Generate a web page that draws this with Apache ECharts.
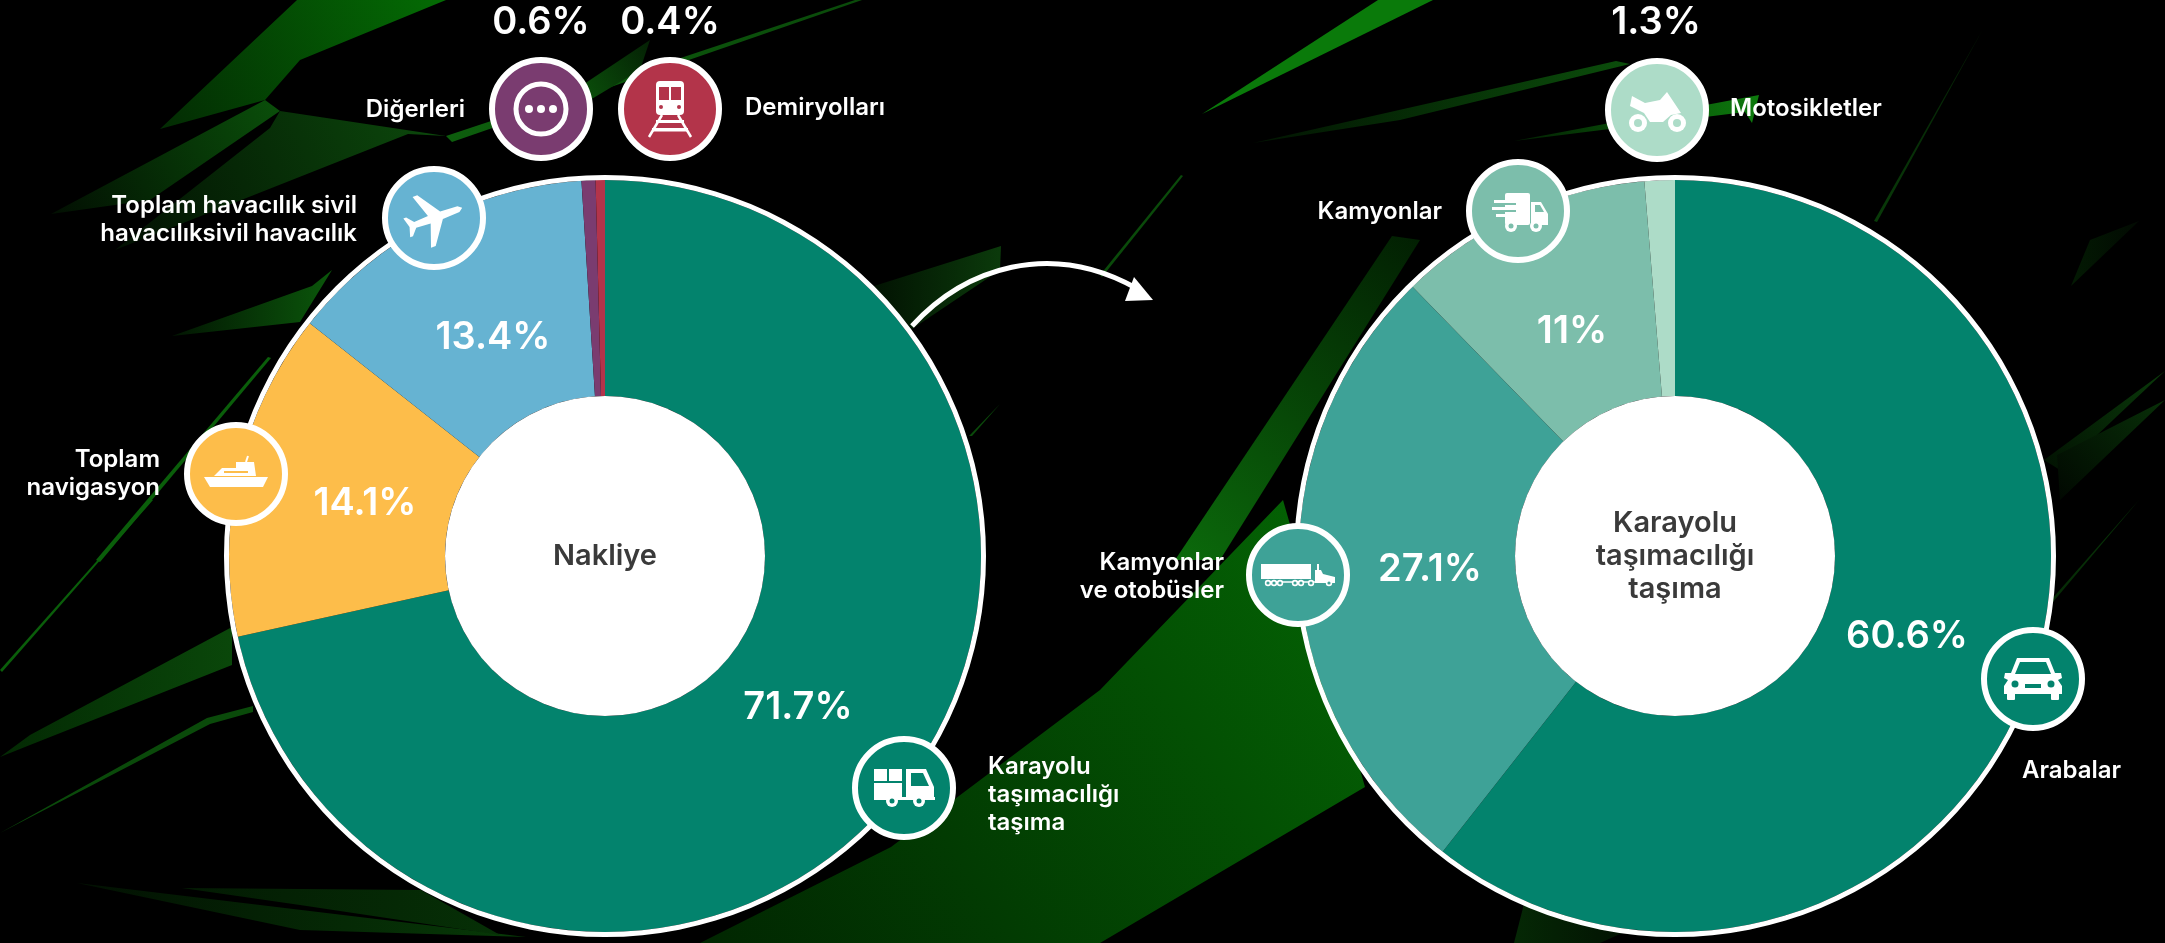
<!DOCTYPE html>
<html>
<head>
<meta charset="utf-8">
<style>
html, body { margin: 0; padding: 0; background: #000; }
#main { width: 2165px; height: 943px; }
</style>
<script src="https://cdn.jsdelivr.net/npm/echarts@6/dist/echarts.min.js"></script>
</head>
<body>
<div id="main"></div>
<script>
// data
const transportNames = ['Karayolu\ntaşımacılığı\ntaşıma', 'Toplam\nnavigasyon', 'Toplam havacılık sivil\nhavacılıksivil havacılık', 'Diğerleri', 'Demiryolları'];
const transportValues = [71.7, 14.1, 13.4, 0.6, 0.4];
const roadNames = ['Arabalar', 'Kamyonlar\nve otobüsler', 'Kamyonlar', 'Motosikletler'];
const roadValues = [60.6, 27.1, 11, 1.3];
const transportTitle = 'Nakliye';
const roadTitle = 'Karayolu\ntaşımacılığı\ntaşıma';

// colours
const transportColors = ['#03836d', '#fdbd4a', '#66b3d2', '#7a3c70', '#b3344a'];
const roadColors = ['#03836d', '#3ea297', '#7cbeab', '#addcc8'];

// layout, percent labels
const transportPct = [[798, 708], [365, 504], [493, 338], [541, 23], [670, 23]];
const roadPct = [[1907, 637], [1430, 570], [1572, 332], [1656, 23]];
// layout, names: x, y, align
const transportText = [[988, 795, 'left'], [160, 474, 'right'], [357, 220, 'right'], [465, 110, 'right'], [745, 108, 'left']];
const roadText = [[2022, 771, 'left'], [1224, 577, 'right'], [1442, 212, 'right'], [1730, 109, 'left']];

// background streaks: points, colour a, colour b, gradient direction
const streaks = [
  [[[297,0],[446,0],[300,60],[265,100],[160,129]], '#046c04', '#032b03', [1,0,0,1]],
  [[[265,100],[280,111],[150,200],[51,214]], '#0a4f0a', '#020f02', [1,0,0,1]],
  [[[280,111],[446,136],[408,134],[115,250],[270,128]], '#0c4a0c', '#021002', [1,0,0,1]],
  [[[446,136],[855,0],[862,0],[452,142]], '#0d5e0d', '#0a4a0a', [0,0,1,0]],
  [[[560,100],[650,40],[640,70],[590,100]], '#0c5a0c', '#042004', [0,1,1,0]],
  [[[172,336],[312,286],[332,270],[300,322]], '#021502', '#0b570b', [0,0,1,0]],
  [[[96,560],[268,357],[271,358],[100,562]], '#0a5e0a', '#0a5e0a', [0,0,1,0]],
  [[[0,670],[151,500],[153,500],[2,672]], '#0a5e0a', '#0a5e0a', [0,0,1,0]],
  [[[0,757],[30,735],[232,627],[232,665],[30,745]], '#032903', '#0a470a', [0,0,1,0]],
  [[[0,833],[207,718],[253,706],[253,712],[210,724]], '#0a4a0a', '#0a4a0a', [0,0,1,0]],
  [[[77,883],[526,937],[300,930]], '#021002', '#073a07', [0,0,1,0]],
  [[[182,888],[421,890],[500,935],[300,905]], '#031a03', '#063006', [0,0,1,0]],
  [[[700,943],[891,847],[1100,690],[1283,500],[1365,787],[1100,943]], '#012601', '#046604', [0,1,1,0]],
  [[[1175,560],[1392,236],[1420,240],[1220,560]], '#0b6a0b', '#021f02', [0,1,1,0]],
  [[[1202,114],[1378,0],[1433,0]], '#0a7a0a', '#0a7a0a', [0,0,1,0]],
  [[[1253,143],[1616,61],[1630,64],[1400,120]], '#021402', '#0b4d0b', [0,0,1,0]],
  [[[1514,141],[1759,95],[1752,123],[1745,112]], '#032003', '#0d7a0d', [0,0,1,0]],
  [[[1983,29],[1874,221],[1877,222]], '#021002', '#0b480b', [0,0,1,1]],
  [[[2165,371],[2044,460],[2060,470]], '#0a3a0a', '#021202', [1,0,0,1]],
  [[[2139,221],[2071,286],[2090,240]], '#031a03', '#020a02', [0,0,1,0]],
  [[[2165,400],[2057,455],[2060,500]], '#083008', '#010801', [1,0,0,1]],
  [[[2139,500],[2051,600],[2053,602]], '#0a4a0a', '#031403', [0,0,1,1]],
  [[[1514,943],[1525,900],[1640,925],[1600,943]], '#052805', '#021002', [0,0,1,0]],
  [[[1100,275],[1181,175],[1183,176],[1102,277]], '#0a4a0a', '#0a4a0a', [0,0,1,0]],
  [[[1001,246],[874,286],[912,329],[1000,270]], '#0b3a0b', '#021302', [1,0,0,0]],
  [[[1000,404],[969,436],[972,436]], '#0a4a0a', '#0a4a0a', [0,0,1,0]]
];

const fontFamily = 'Inter, "Noto Sans", sans-serif';
const W = '#ffffff';

function poly(points, fill) { return { type: 'polygon', shape: { points: points }, style: { fill: fill }, z: 21 }; }
function box(x, y, w, h, fill, r) { return { type: 'rect', shape: { x: x, y: y, width: w, height: h, r: r || 0 }, style: { fill: fill }, z: 21 }; }
function dot(x, y, r, fill) { return { type: 'circle', shape: { cx: x, cy: y, r: r }, style: { fill: fill }, z: 21 }; }
function wheel(x, y, r, hole, c) { return [dot(x, y, r, W), dot(x, y, hole, c)]; }
function stroke(x1, y1, x2, y2, w) { return { type: 'line', shape: { x1: x1, y1: y1, x2: x2, y2: y2 }, style: { stroke: W, lineWidth: w }, z: 21 }; }

// icons, drawn around 0,0
const icons = {
  dots: c => [
    { type: 'circle', shape: { cx: 0, cy: 0, r: 25 }, style: { fill: 'none', stroke: W, lineWidth: 5 }, z: 21 },
    dot(-12, 0, 4, W), dot(0, 0, 4, W), dot(12, 0, 4, W)
  ],
  train: c => [
    box(-14, -28, 28, 34, W, 4), box(-11, -22, 10, 13, c), box(1, -22, 10, 13, c), dot(-9, -2, 2, c), dot(9, -2, 2, c),
    stroke(-8, 6, -21, 28, 2.5), stroke(8, 6, 21, 28, 2.5),
    box(-14, 11, 28, 3, W), box(-18, 19, 36, 3.5, W)
  ],
  plane: c => [{
    type: 'polygon', rotation: -70 * Math.PI / 180, z: 21, style: { fill: W },
    shape: { points: [[0,-30],[3,-26],[4,-8],[27,8],[27,13],[4,5],[3,20],[10,26],[10,29],[0,26],[-10,29],[-10,26],[-3,20],[-4,5],[-27,13],[-27,8],[-4,-8],[-3,-26]] }
  }],
  boat: c => [
    poly([[-32,3],[32,3],[27,13],[-26,13]], W),
    poly([[-22,2],[-14,-6],[0,-6],[0,-12],[18,-12],[20,2]], W),
    stroke(10, -12, 12, -18, 2), box(-12, -3, 24, 2, c)
  ],
  truck: c => [
    box(-30, -19, 13, 12, W), box(-15, -19, 13, 12, W), box(-30, -5, 28, 14, W),
    poly([[2,-19],[22,-19],[30,-1],[30,10],[2,10]], W),
    poly([[7,-15],[19,-15],[25,-2],[7,-2]], c),
    box(-30, 9, 61, 3, W),
    ...wheel(-12, 13, 6, 2.5, c), ...wheel(15, 13, 6, 2.5, c)
  ],
  motorcycle: c => [
    ...wheel(-19, 13, 9, 4, c), ...wheel(20, 13, 9, 4, c),
    poly([[-25,-14],[-12,-7],[3,-10],[10,-18],[18,-6],[24,3],[14,5],[6,12],[-7,12],[-13,3],[-27,-4]], W)
  ],
  van: c => [
    box(-13, -18, 25, 32, W, 2),
    poly([[13,-9],[23,-9],[30,3],[30,14],[13,14]], W),
    poly([[17,-6],[22,-6],[26,1],[17,1]], c),
    box(-24, -11, 20, 3, W), box(-14, -8, 12, 2, c), box(-26, -4, 20, 3, W), box(-14, -1, 12, 2, c), box(-22, 3, 16, 3, W),
    ...wheel(-7, 15, 6, 2.5, c), ...wheel(18, 15, 6, 2.5, c)
  ],
  semi: c => [
    box(-37, -11, 50, 15, W),
    poly([[17,-5],[23,-5],[25,-1],[37,2],[37,8],[17,8]], W),
    box(19, -11, 2, 8, W), stroke(-28, 7, 17, 7, 1.5),
    ...[-30, -24, -18, -3, 3, 13, 31].flatMap(x => wheel(x, 8, 3.2, 1.6, c))
  ],
  car: c => [
    box(-26, 14, 8, 7, W, 1), box(18, 14, 8, 7, W, 1),
    poly([[-16,-21],[16,-21],[22,-6],[28,-6],[29,-1],[25,1],[29,7],[29,15],[-29,15],[-29,7],[-25,1],[-29,-1],[-28,-6],[-22,-6]], W),
    poly([[-13,-17],[13,-17],[18,-5],[-18,-5]], c),
    dot(-18, 5, 3.5, c), dot(18, 5, 3.5, c), box(-8, 5, 16, 4, c)
  ]
};

// badge: circle with white edge and an icon
function badge(x, y, color, name) {
  return {
    type: 'group', x: x, y: y, z: 20,
    children: [{ type: 'circle', shape: { cx: 0, cy: 0, r: 49 }, style: { fill: color, stroke: W, lineWidth: 6 }, z: 20 }].concat(icons[name](color))
  };
}

function nameText(name, t) {
  return {
    type: 'text', x: t[0], y: t[1], z: 20,
    style: { text: name, fill: W, align: t[2], verticalAlign: 'middle', font: '600 24px ' + fontFamily, lineHeight: 28 }
  };
}

function donut(names, values, colors, pct, center, title) {
  return [
    {
      type: 'pie', radius: [0, 160], center: center, silent: true, z: 3,
      itemStyle: { color: W },
      label: { position: 'center', color: '#3a3a3a', fontFamily: fontFamily, fontWeight: 600, fontSize: 29, lineHeight: 33 },
      labelLine: { show: false },
      data: [{ value: 1, name: title }]
    },
    {
      type: 'pie', radius: [160, 376], center: center, startAngle: 90, silent: true, z: 2,
      avoidLabelOverlap: false,
      labelLine: { show: false },
      label: {
        position: 'inside', color: W, fontFamily: fontFamily, fontWeight: 600, fontSize: 38,
        formatter: p => p.value + '%'
      },
      labelLayout: p => ({ x: pct[p.dataIndex][0], y: pct[p.dataIndex][1], align: 'center', verticalAlign: 'middle' }),
      data: values.map((v, i) => ({ value: v, name: names[i], itemStyle: { color: colors[i] } }))
    },
    {
      type: 'pie', radius: [376, 381], center: center, silent: true, z: 2,
      itemStyle: { color: W }, label: { show: false }, labelLine: { show: false },
      data: [{ value: 1, name: 'edge' }]
    }
  ];
}

const graphics = streaks.map(s => ({
  type: 'polygon', z: -5, silent: true,
  shape: { points: s[0] },
  style: {
    fill: {
      type: 'linear', x: s[3][0], y: s[3][1], x2: s[3][2], y2: s[3][3],
      colorStops: [{ offset: 0, color: s[1] }, { offset: 1, color: s[2] }]
    }
  }
}));

// arrow between the two donuts
graphics.push({
  type: 'bezierCurve', z: 1, silent: true,
  shape: { x1: 912, y1: 326, cpx1: 965, cpy1: 268, cpx2: 1050, cpy2: 240, x2: 1136, y2: 288 },
  style: { stroke: W, lineWidth: 5, fill: 'none' }
});
graphics.push({ type: 'polygon', z: 1, silent: true, shape: { points: [[1134, 277], [1153, 300], [1125, 301]] }, style: { fill: W } });

transportNames.forEach((n, i) => graphics.push(nameText(n, transportText[i])));
roadNames.forEach((n, i) => graphics.push(nameText(n, roadText[i])));

graphics.push(
  badge(904, 788, transportColors[0], 'truck'),
  badge(236, 474, transportColors[1], 'boat'),
  badge(434, 218, transportColors[2], 'plane'),
  badge(541, 109, transportColors[3], 'dots'),
  badge(670, 109, transportColors[4], 'train'),
  badge(2033, 679, roadColors[0], 'car'),
  badge(1298, 575, roadColors[1], 'semi'),
  badge(1518, 211, roadColors[2], 'van'),
  badge(1657, 110, roadColors[3], 'motorcycle')
);

const chart = echarts.init(document.getElementById('main'));
chart.setOption({
  backgroundColor: '#000000',
  animation: false,
  graphic: graphics,
  series: donut(transportNames, transportValues, transportColors, transportPct, [605, 556], transportTitle)
    .concat(donut(roadNames, roadValues, roadColors, roadPct, [1675, 556], roadTitle))
});
</script>
</body>
</html>
